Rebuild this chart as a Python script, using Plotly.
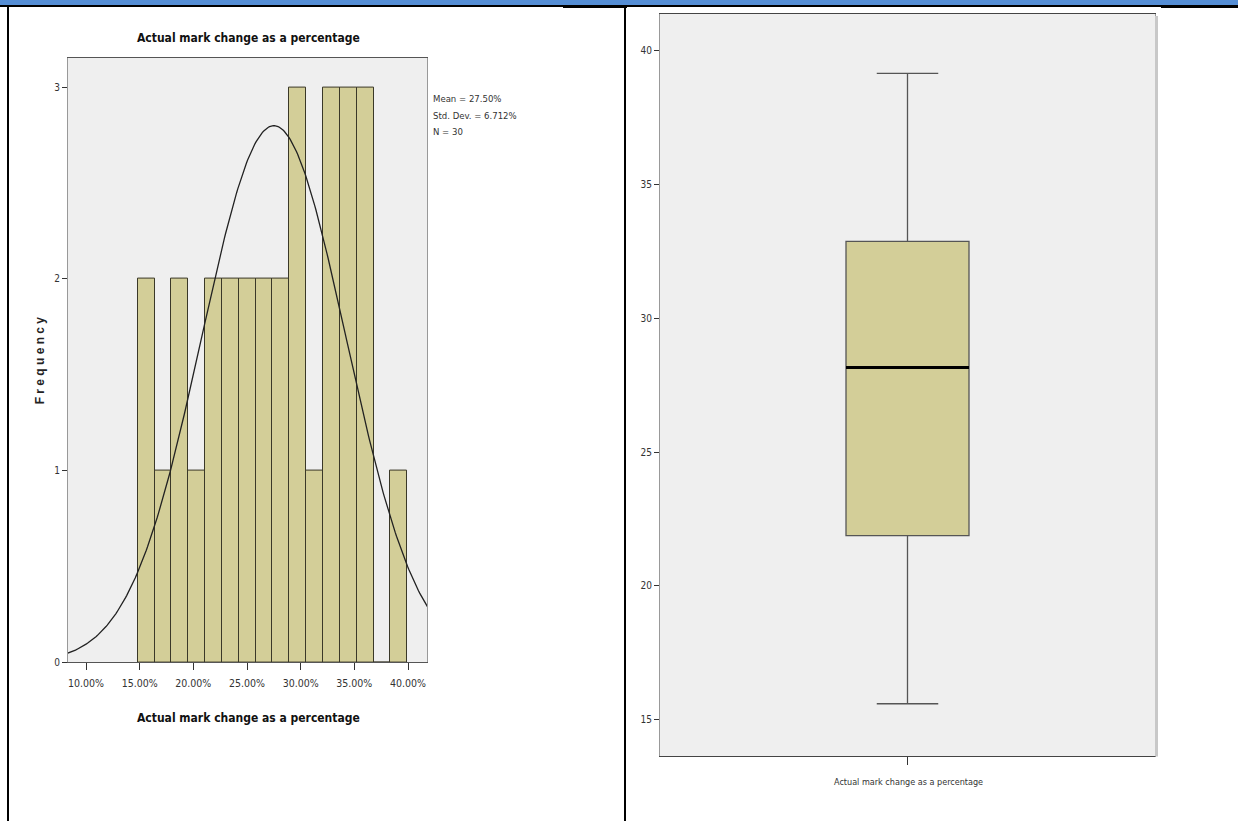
import numpy as np
import plotly.graph_objects as go

# ---- data -------------------------------------------------------------
var_label = "Actual mark change as a percentage"

# histogram bins (centre of each bin, in %) and frequencies
bin_centers = [15.60, 17.17, 18.74, 20.31, 21.88, 23.45, 25.02, 26.59,
               28.16, 29.73, 31.30, 32.87, 34.44, 36.01, 37.58, 39.15]
frequencies = [2, 1, 2, 1, 2, 2, 2, 2, 2, 3, 1, 3, 3, 3, 0, 1]
bin_width = 1.57

stat_mean = 27.50
stat_sd = 6.712
stat_n = 30

hist_xticks = [10, 15, 20, 25, 30, 35, 40]
hist_xticklabels = ["10.00%", "15.00%", "20.00%", "25.00%", "30.00%", "35.00%", "40.00%"]
hist_yticks = [0, 1, 2, 3]

# box plot summary
box_lower = 15.60
box_q1 = 21.88
box_median = 28.16
box_q3 = 32.87
box_upper = 39.15
box_yticks = [15, 20, 25, 30, 35, 40]

# ---- styling ----------------------------------------------------------
W, H = 1238, 827
NARROW = "Liberation Sans Narrow, Arial Narrow, DejaVu Sans Condensed, sans-serif"
BAR_FILL = "#D3CE98"
PANEL_BG = "#EFEFEF"
TEXT = "#333333"


def px_x(p):
    return p / W


def px_y(p):
    return 1 - p / H


fig = go.Figure()

# histogram bars
fig.add_trace(go.Bar(
    x=bin_centers, y=frequencies, width=bin_width,
    marker=dict(color=BAR_FILL, line=dict(color="#3a3828", width=1)),
    xaxis="x", yaxis="y", showlegend=False, hoverinfo="skip",
))

# fitted normal curve from the reported mean / SD / N
xs = np.linspace(8.0, 42.0, 300)
curve = stat_n * bin_width / (stat_sd * np.sqrt(2 * np.pi)) * np.exp(-0.5 * ((xs - stat_mean) / stat_sd) ** 2)
fig.add_trace(go.Scatter(
    x=xs, y=curve, mode="lines", line=dict(color="#222222", width=1.3),
    xaxis="x", yaxis="y", showlegend=False, hoverinfo="skip", cliponaxis=True,
))

# box plot
box_w = 0.497
fig.add_trace(go.Box(
    x=[0], q1=[box_q1], median=[box_median], q3=[box_q3],
    lowerfence=[box_lower], upperfence=[box_upper],
    width=box_w, whiskerwidth=0.5, boxpoints=False,
    fillcolor=BAR_FILL, line=dict(color="#555555", width=1.3),
    xaxis="x2", yaxis="y2", showlegend=False, hoverinfo="skip",
))
# heavy median bar
fig.add_trace(go.Scatter(
    x=[-box_w / 2, box_w / 2], y=[box_median, box_median], mode="lines",
    line=dict(color="#000000", width=3),
    xaxis="x2", yaxis="y2", showlegend=False, hoverinfo="skip",
))

axis_common = dict(showgrid=False, zeroline=False, showline=True, mirror=True,
                   ticks="outside", tickcolor="#333333")
small_font = dict(family=NARROW, size=10, color=TEXT)

fig.update_layout(
    width=W, height=H, autosize=False,
    margin=dict(l=0, r=0, t=0, b=0),
    paper_bgcolor="white", plot_bgcolor=PANEL_BG,
    bargap=0,
    xaxis=dict(domain=[px_x(68), px_x(427)], range=[8.323, 41.77],
               tickvals=hist_xticks, ticktext=hist_xticklabels, ticklen=7,
               linecolor="#555555", anchor="y", ticklabelstandoff=4,
               tickfont=dict(family=NARROW, size=10.5, color=TEXT), **axis_common),
    yaxis=dict(domain=[px_y(667), px_y(58)], range=[0, 3.155],
               tickvals=hist_yticks, ticklen=5, linecolor="#999999", anchor="x",
               tickfont=small_font, **axis_common),
    xaxis2=dict(domain=[px_x(660), px_x(1155)], range=[-1, 1],
                tickvals=[0], ticktext=[""], ticklen=8, linecolor="#444444", anchor="y2",
                tickfont=small_font, **axis_common),
    yaxis2=dict(domain=[px_y(762), px_y(14)], range=[13.63, 41.37],
                tickvals=box_yticks, ticklen=5, linecolor="#999999", anchor="x2",
                tickfont=small_font, **axis_common),
)

stat_lines = [f"Mean = {stat_mean:.2f}%", f"Std. Dev. = {stat_sd:.3f}%", f"N = {stat_n}"]
stat_rows = [99, 116, 132]

annotations = [
    # histogram title
    dict(text="<b>" + var_label + "</b>", x=px_x(248), y=px_y(38), xref="paper", yref="paper",
         showarrow=False, font=dict(family=NARROW, size=12, color="#111111"),
         xanchor="center", yanchor="middle"),
    # histogram x-axis title
    dict(text="<b>" + var_label + "</b>", x=px_x(248), y=px_y(723), xref="paper", yref="paper",
         showarrow=False, font=dict(family=NARROW, size=12, color="#111111"),
         xanchor="center", yanchor="middle"),
    # histogram y-axis title
    dict(text="<b>F r e q u e n c y</b>", x=px_x(40), y=px_y(363), xref="paper", yref="paper",
         showarrow=False, textangle=-90,
         font=dict(family="Liberation Sans, Arial, sans-serif", size=12, color="#222222"),
         xanchor="center", yanchor="middle"),
    # box plot category label
    dict(text=var_label, x=px_x(908), y=px_y(788), xref="paper", yref="paper",
         showarrow=False, font=dict(family=NARROW, size=9, color=TEXT),
         xanchor="center", yanchor="middle"),
]
# summary statistics, one row each
for line, row in zip(stat_lines, stat_rows):
    annotations.append(dict(text=line, x=px_x(431), y=px_y(row), xref="paper", yref="paper",
                            showarrow=False, xanchor="left", yanchor="middle",
                            font=dict(family=NARROW, size=9.5, color=TEXT)))
fig.update_layout(annotations=annotations)

# table frame around the two panels
shapes = [
    dict(type="rect", xref="paper", yref="paper", x0=0, x1=1, y0=px_y(5), y1=1,
         fillcolor="#558ED5", line=dict(width=0)),
    dict(type="rect", xref="paper", yref="paper", x0=0, x1=1, y0=px_y(7), y1=px_y(5),
         fillcolor="#000000", line=dict(width=0)),
    dict(type="rect", xref="paper", yref="paper", x0=px_x(563), x1=px_x(627), y0=px_y(8), y1=px_y(5),
         fillcolor="#000000", line=dict(width=0)),
    dict(type="rect", xref="paper", yref="paper", x0=px_x(1161), x1=1, y0=px_y(8), y1=px_y(5),
         fillcolor="#000000", line=dict(width=0)),
    dict(type="rect", xref="paper", yref="paper", x0=px_x(7), x1=px_x(9), y0=0, y1=px_y(5),
         fillcolor="#000000", line=dict(width=0)),
    dict(type="rect", xref="paper", yref="paper", x0=px_x(624), x1=px_x(626), y0=0, y1=px_y(5),
         fillcolor="#000000", line=dict(width=0)),
    # soft shadow on the right of the box-plot panel
    dict(type="rect", xref="paper", yref="paper", x0=px_x(1155), x1=px_x(1158), y0=px_y(762), y1=px_y(16),
         fillcolor="#C8C8C8", line=dict(width=0)),
]
fig.update_layout(shapes=shapes)

fig.write_html("out.html", config={"displayModeBar": False})
